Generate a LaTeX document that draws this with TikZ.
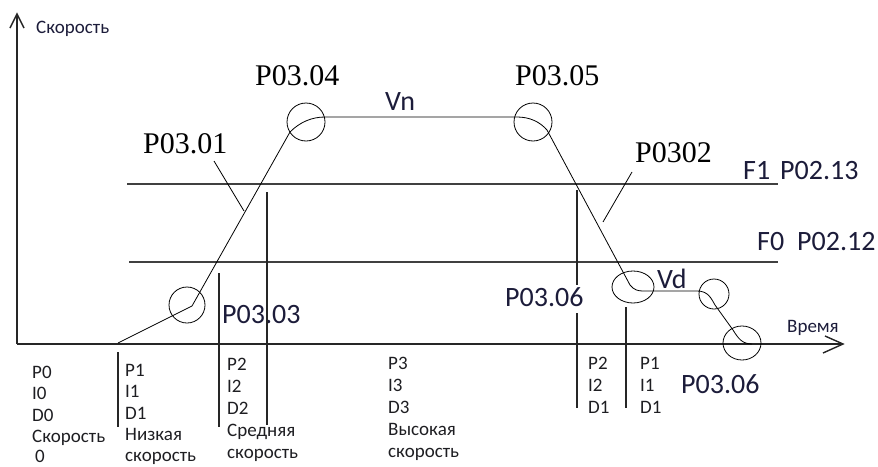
\documentclass[tikz,border=0pt]{standalone}
\usepackage{fontspec}
\setmainfont{Carlito}
\newfontfamily\serifb{Liberation Serif}
\usetikzlibrary{shapes.geometric}
\definecolor{txt}{HTML}{1E1E22}
\definecolor{navy}{HTML}{1C1C3A}
\begin{document}
\begin{tikzpicture}[x=1pt,y=-1pt,
  axisline/.style={line width=1.4pt, draw=black!85},
  fline/.style={line width=1.4pt, draw=black!75},
  traj/.style={line width=0.8pt, draw=black},
  sepline/.style={line width=1.2pt, draw=black!85},
  ring/.style={draw, line width=0.8pt, inner sep=0pt, circle},
  oval/.style={draw, line width=0.8pt, inner sep=0pt, ellipse},
  small/.style={font=\fontsize{19}{22}\selectfont, text=txt, inner sep=0pt, anchor=base west},
  midl/.style={font=\fontsize{28}{32}\selectfont, text=navy, inner sep=0pt, anchor=base west},
  serifl/.style={font=\serifb\fontsize{30}{34}\selectfont, text=black, inner sep=0pt, anchor=base west}]
\useasboundingbox (0,0) rectangle (878,466);
\fill[white] (0,0) rectangle (878,466);

% axes
\coordinate (O) at (17,344);
\coordinate (Ytop) at (17,14);
\coordinate (Xend) at (843,344);
\coordinate (yl) at (10,28);
\coordinate (yr) at (24,28);
\coordinate (xu) at (825,336);
\coordinate (xd) at (823,353);
\draw[axisline] (O) -- (Ytop);
\draw[axisline] (yl) -- (Ytop) -- (yr);
\draw[axisline] (O) -- (Xend);
\draw[axisline] (xu) -- (Xend) -- (xd);
\node[small, text=navy] (ylab) at (36,33) {Скорость};
\node[small, text=navy] (xlab) at (787,332) {Время};

% frequency lines
\coordinate (f1a) at (127,184);
\coordinate (f1b) at (778,184);
\coordinate (f0a) at (129,262);
\coordinate (f0b) at (778,262);
\draw[fline] (f1a) -- (f1b);
\draw[fline] (f0a) -- (f0b);
\node[midl] (f1) at (743,179) {F1};
\node[midl] (p0213) at (780,179) {P02.13};
\node[midl] (f0) at (757,250) {F0};
\node[midl] (p0212) at (797,250) {P02.12};

% circles
\node[ring, minimum size=36pt] (c1) at (187,305) {};
\node[ring, minimum size=38pt] (c4) at (306,122) {};
\node[ring, minimum size=38pt] (c5) at (533,122) {};
\node[oval, minimum width=42pt, minimum height=32pt] (cvd) at (633,287) {};
\node[ring, minimum size=30pt] (c7) at (714,294) {};
\node[oval, minimum width=38pt, minimum height=34pt] (c8) at (742,343) {};

% trajectory
\coordinate (s0) at (118,343);
\coordinate (s1) at (192,306);
\coordinate (s2) at (290,132);
\coordinate (s3) at (325,117);
\coordinate (s4) at (517,117);
\coordinate (s5) at (547,130);
\coordinate (s6) at (630,285);
\coordinate (s7) at (643,291);
\coordinate (s8) at (697,291);
\coordinate (s9) at (715,305);
\coordinate (s10) at (733,330);
\coordinate (s11) at (752,344);
\draw[traj] (s0) -- (s1) -- (s2) .. controls (300,122) and (312,117) .. (s3) -- (s4)
  .. controls (530,117) and (540,122) .. (s5) -- (s6)
  .. controls (634,290) and (638,291) .. (s7) -- (s8)
  .. controls (708,291) and (711,298) .. (s9) -- (s10)
  .. controls (738,338) and (742,344) .. (s11);
\node[midl] (vn) at (385,110) {Vn};
\node[midl] (vd) at (657,288) {Vd};

% leaders
\coordinate (l1a) at (214,161);
\coordinate (l1b) at (244,211);
\coordinate (l2a) at (632,172);
\coordinate (l2b) at (603,222);
\draw[traj] (l1a) -- (l1b);
\draw[traj] (l2a) -- (l2b);

% labels
\node[serifl] (p0301) at (143,153) {P03.01};
\node[serifl] (p0304) at (255,85) {P03.04};
\node[serifl] (p0305) at (515,85) {P03.05};
\node[serifl] (p0302) at (635,162) {P0302};
\node[midl] (p0303) at (222,323) {P03.03};
\node[midl] (p0306a) at (505,306) {P03.06};
\node[midl] (p0306b) at (681,393) {P03.06};

% separators
\coordinate (v1a) at (118,352); \coordinate (v1b) at (118,427);
\coordinate (v2a) at (219,273); \coordinate (v2b) at (219,427);
\coordinate (v3a) at (267,192); \coordinate (v3b) at (267,425);
\coordinate (v4a) at (577,190); \coordinate (v4b) at (577,285);
\coordinate (v4c) at (577,313); \coordinate (v4d) at (577,408);
\coordinate (v5a) at (626,307); \coordinate (v5b) at (626,408);
\draw[sepline] (v1a) -- (v1b);
\draw[sepline] (v2a) -- (v2b);
\draw[sepline] (v3a) -- (v3b);
\draw[sepline] (v4a) -- (v4b);
\draw[sepline] (v4c) -- (v4d);
\draw[sepline] (v5a) -- (v5b);

% bottom text columns
\node[small] (a0) at (32,378) {P0};
\node[small] (a1) at (32,399.5) {I0};
\node[small] (a2) at (32,421) {D0};
\node[small] (a3) at (32,442.5) {Скорость};
\node[small] (a4) at (35,462.5) {0};

\node[small] (b0) at (125,376) {P1};
\node[small] (b1) at (125,397.5) {I1};
\node[small] (b2) at (125,419) {D1};
\node[small] (b3) at (125,440.5) {Низкая};
\node[small] (b4) at (125,461) {скорость};

\node[small] (d0) at (227,370) {P2};
\node[small] (d1) at (227,392) {I2};
\node[small] (d2) at (227,414) {D2};
\node[small] (d3) at (227,436) {Средняя};
\node[small] (d4) at (227,458) {скорость};

\node[small] (e0) at (388,369) {P3};
\node[small] (e1) at (388,391) {I3};
\node[small] (e2) at (388,413) {D3};
\node[small] (e3) at (388,435) {Высокая};
\node[small] (e4) at (388,457) {скорость};

\node[small] (g0) at (588,369) {P2};
\node[small] (g1) at (588,391) {I2};
\node[small] (g2) at (588,413) {D1};

\node[small] (h0) at (640,369) {P1};
\node[small] (h1) at (640,391) {I1};
\node[small] (h2) at (640,413) {D1};
\end{tikzpicture}
\end{document}
